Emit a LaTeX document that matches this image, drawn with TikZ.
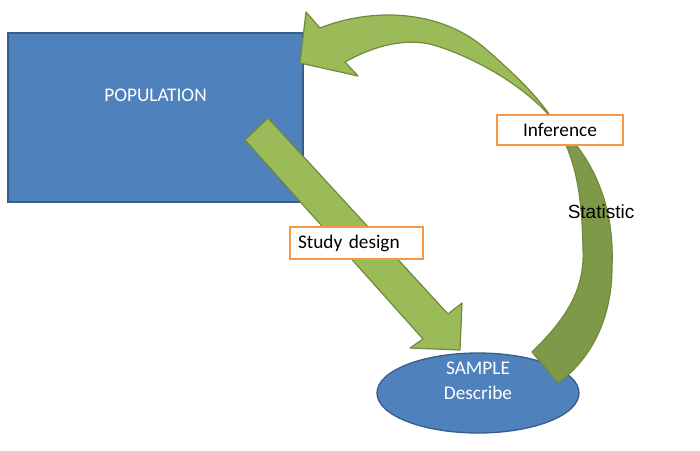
\documentclass[tikz,border=0pt]{standalone}
\usepackage{fontspec}
\setmainfont{Carlito}
\newfontfamily\statfont{Liberation Sans}
\usetikzlibrary{shapes.geometric}

\definecolor{popblue}{HTML}{4F81BD}
\definecolor{popedge}{HTML}{385D8A}
\definecolor{arrowgreen}{HTML}{9BBB59}
\definecolor{arrowedge}{HTML}{71893F}
\definecolor{backgreen}{HTML}{7E9947}
\definecolor{tagorange}{HTML}{F79646}

\tikzset{
  popbox/.style={draw=popedge, fill=popblue, line width=1.3pt, inner sep=0pt},
  samplebox/.style={ellipse, draw=popedge, fill=popblue, line width=1.3pt, inner sep=0pt},
  frontside/.style={fill=arrowgreen, draw=arrowedge, line width=1.2pt, line join=round},
  backside/.style={fill=backgreen, draw=arrowedge, line width=1.2pt, line join=round},
  tagbox/.style={draw=tagorange, fill=white, line width=1.6pt, text=black}
}

\begin{document}
\begin{tikzpicture}[x=1pt,y=-1pt,font=\fontsize{19.3}{25}\selectfont]
\useasboundingbox (0,0) rectangle (700,450);
\node[popbox, minimum width=295pt, minimum height=169pt,
  label={[white,yshift=22pt]center:POPULATION}] (pop) at (155.5,117.5) {};
\node[samplebox, minimum width=202pt, minimum height=80pt,
  label={[white,align=center,yshift=12pt]center:SAMPLE\\Describe}] (sample) at (478,393) {};
\filldraw[frontside] (268,118) -- (448,314) -- (462,303) -- (460,350) -- (410,348) -- (423,339) -- (245,140) -- cycle;
\filldraw[backside] (553,120) .. controls (603,165) and (614,220) .. (612,267)
  .. controls (612,320) and (590,360) .. (558,383) -- (532,352)
  .. controls (565,320) and (585,290) .. (583,250)
  .. controls (582,200) and (578,160) .. (553,120) -- cycle;
\filldraw[frontside] (306,12) -- (320,28) .. controls (370,8) and (440,8) .. (487,50)
  .. controls (512,72) and (537,95) .. (553,120)
  .. controls (525,85) and (470,55) .. (430,44)
  .. controls (400,38) and (370,48) .. (345,62) -- (358,76) -- (300,63) -- cycle;
\node[tagbox, minimum width=126pt, minimum height=30pt, inner sep=0pt] (infer) at (560,130) {Inference};
\node[tagbox, text width=117pt, align=left, minimum height=32pt, inner xsep=8pt, inner ysep=0pt] (design) at (356.5,243) {Study design};
\node[font=\statfont\fontsize{19}{23}\selectfont] (stat) at (601,212) {Statistic};
\end{tikzpicture}
\end{document}
